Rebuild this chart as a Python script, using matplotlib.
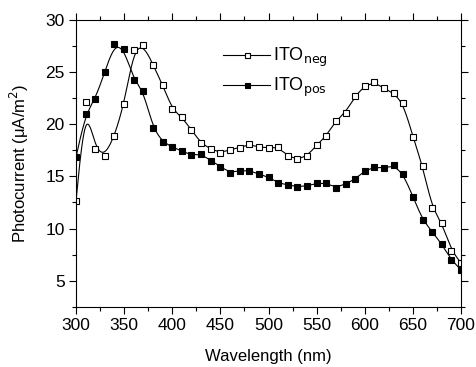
import numpy as np
import matplotlib.pyplot as plt
from matplotlib.ticker import MultipleLocator

wavelength = np.arange(300, 701, 10)

ito_neg = [12.6, 22.1, 17.6, 16.96, 18.88, 21.95, 27.12, 27.63, 25.72, 23.77,
           21.44, 20.67, 19.45, 18.18, 17.63, 17.28, 17.54, 17.76, 18.08, 17.79,
           17.76, 17.8, 16.96, 16.64, 16.96, 17.98, 18.88, 20.35, 21.12, 22.71,
           23.67, 24.02, 23.45, 22.97, 22.01, 18.81, 16.03, 11.95, 10.57, 7.88,
           6.7]

ito_pos = [16.84, 20.99, 22.43, 25.04, 27.7, 27.22, 24.25, 23.22, 19.61, 18.33,
           17.81, 17.44, 17.03, 17.15, 16.51, 15.94, 15.36, 15.55, 15.55, 15.23,
           14.92, 14.38, 14.18, 14.02, 14.08, 14.34, 14.34, 13.92, 14.28, 14.73,
           15.55, 15.87, 15.81, 16.06, 15.23, 13.06, 10.85, 9.7, 8.49, 6.99,
           6.03]


def bspline(x, y, n=20):
    # uniform cubic B-spline, end points repeated so the curve starts/ends on them
    px = np.concatenate([[x[0]] * 2, x, [x[-1]] * 2]).astype(float)
    py = np.concatenate([[y[0]] * 2, y, [y[-1]] * 2]).astype(float)
    t = np.linspace(0, 1, n, endpoint=False)
    b0 = (1 - t) ** 3 / 6
    b1 = (3 * t**3 - 6 * t**2 + 4) / 6
    b2 = (-3 * t**3 + 3 * t**2 + 3 * t + 1) / 6
    b3 = t**3 / 6
    xs, ys = [], []
    for i in range(len(px) - 3):
        xs.append(b0 * px[i] + b1 * px[i + 1] + b2 * px[i + 2] + b3 * px[i + 3])
        ys.append(b0 * py[i] + b1 * py[i + 1] + b2 * py[i + 2] + b3 * py[i + 3])
    xs.append([px[-1]])
    ys.append([py[-1]])
    return np.concatenate(xs), np.concatenate(ys)


plt.rcParams['font.family'] = ['Liberation Sans', 'DejaVu Sans']

fig = plt.figure(figsize=(4.77, 3.67), dpi=100)
ax = fig.add_axes([0.1593, 0.1643, 0.8072, 0.7812])

xs, ys = bspline(wavelength, ito_neg)
ax.plot(xs, ys, color='black', lw=0.8)
xs, ys = bspline(wavelength, ito_pos)
ax.plot(xs, ys, color='black', lw=0.8)

ax.plot(wavelength, ito_neg, 's', ms=4.2, mfc='white', mec='black', mew=0.8)
ax.plot(wavelength, ito_pos, 's', ms=4.2, mfc='black', mec='black', mew=0.8)

# legend entries (line - marker - line)
h1, = ax.plot([], [], '-s', color='black', lw=0.8, ms=3.6, mfc='white', mew=0.8)
h2, = ax.plot([], [], '-s', color='black', lw=0.8, ms=3.6, mfc='black', mew=0.8)
ax.legend([h1, h2], ['ITO$_{\\rm neg}$', 'ITO$_{\\rm pos}$'], loc='upper left',
          bbox_to_anchor=(0.34, 0.965), frameon=False, fontsize=13,
          handlelength=2.6, handletextpad=0.15, labelspacing=0.35)

ax.set_xlim(300, 700)
ax.set_ylim(2.5, 30)
ax.xaxis.set_major_locator(MultipleLocator(50))
ax.xaxis.set_minor_locator(MultipleLocator(25))
ax.yaxis.set_major_locator(MultipleLocator(5))
ax.yaxis.set_minor_locator(MultipleLocator(2.5))
ax.tick_params(which='both', direction='out', top=True, right=True,
               labeltop=False, labelright=False, width=0.8)
ax.tick_params(which='major', length=5, labelsize=12.5, pad=3)
ax.tick_params(which='minor', length=3)
for s in ax.spines.values():
    s.set_linewidth(0.8)

ax.set_xlabel('Wavelength (nm)', fontsize=12, labelpad=12)
ax.set_ylabel('Photocurrent (μA/m$^2$)', fontsize=12, labelpad=10)

fig.savefig('out.png', dpi=100)
